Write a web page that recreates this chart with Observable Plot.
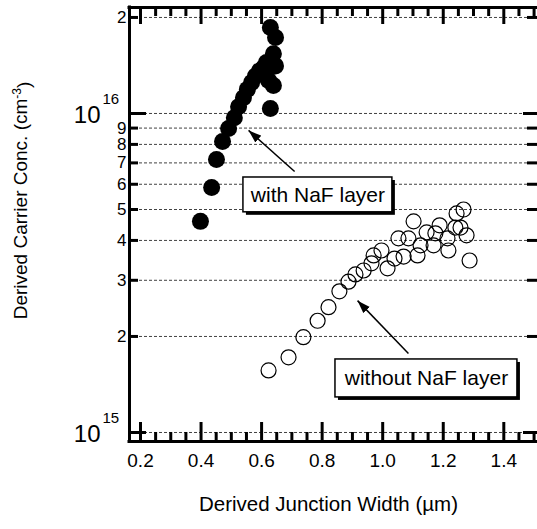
<!DOCTYPE html>
<html><head><meta charset="utf-8">
<script src="https://cdn.jsdelivr.net/npm/d3@7"></script>
<script src="https://cdn.jsdelivr.net/npm/@observablehq/plot@0.6"></script>
<style>html,body{margin:0;padding:0;background:#fff} svg{display:block}</style>
</head><body>
<script>
// ---- data ----
const withNaF_x = [0.398, 0.435, 0.451, 0.471, 0.491, 0.510, 0.524, 0.540, 0.553, 0.567, 0.580, 0.593, 0.606, 0.616, 0.623, 0.629, 0.646, 0.639, 0.646, 0.639, 0.629];
const withNaF_y = [4.59e15, 5.86e15, 7.17e15, 8.17e15, 8.97e15, 9.7e15, 1.05e16, 1.12e16, 1.19e16, 1.25e16, 1.31e16, 1.36e16, 1.39e16, 1.445e16, 1.27e16, 1.86e16, 1.73e16, 1.54e16, 1.41e16, 1.224e16, 1.036e16];
const withoutNaF_x = [0.623, 0.689, 0.738, 0.785, 0.821, 0.857, 0.887, 0.910, 0.937, 0.963, 0.970, 0.996, 1.016, 1.039, 1.069, 1.052, 1.085, 1.115, 1.102, 1.125, 1.145, 1.168, 1.174, 1.188, 1.214, 1.217, 1.240, 1.244, 1.267, 1.257, 1.277, 1.287];
const withoutNaF_y = [1.565e15, 1.72e15, 1.99e15, 2.24e15, 2.47e15, 2.77e15, 2.97e15, 3.13e15, 3.22e15, 3.39e15, 3.59e15, 3.72e15, 3.27e15, 3.51e15, 3.56e15, 4.06e15, 4.06e15, 3.59e15, 4.59e15, 3.86e15, 4.24e15, 3.86e15, 4.21e15, 4.46e15, 4.06e15, 3.72e15, 4.39e15, 4.86e15, 5.0e15, 4.39e15, 4.15e15, 3.46e15];

const xDomain = [0.1637, 1.5113];
const yDomain = [9.37e14, 2.149e16];
const xMajorTicks = [0.2, 0.4, 0.6, 0.8, 1.0, 1.2, 1.4];
const xMinorTicks = [0.25, 0.3, 0.35, 0.45, 0.5, 0.55, 0.65, 0.7, 0.75, 0.85, 0.9, 0.95, 1.05, 1.1, 1.15, 1.25, 1.3, 1.35, 1.45, 1.5];
const yMajorTicks = [1e15, 1e16];
const yMinorTicks = [2e15, 3e15, 4e15, 5e15, 6e15, 7e15, 8e15, 9e15, 2e16];
const yMinorLabels = ["2", "3", "4", "5", "6", "7", "8", "9", "2"];
const yGrid = [1e15, 2e15, 3e15, 4e15, 5e15, 6e15, 7e15, 8e15, 9e15, 1e16, 2e16];

const annotationLabels = ["with NaF layer", "without NaF layer"];
const boxX1 = [0.540, 0.844];
const boxX2 = [1.032, 1.445];
const boxYTop = [6.30e15, 1.694e15];
const boxYBottom = [4.90e15, 1.288e15];
const arrowFromX = [0.709, 1.085];
const arrowFromY = [6.58e15, 1.769e15];
const arrowToX = [0.557, 0.917];
const arrowToY = [8.85e15, 2.59e15];

const xTitle = "Derived Junction Width (\u00b5m)";
const yTitle = "Derived Carrier Conc. (cm-3)";

// ---- layout ----
const W = 537, H = 529, mL = 129, mT = 7, mB = 88, mR = 0;
const fw = W - mL - mR, fh = H - mT - mB;
const font = "'Liberation Sans', Arial, Helvetica, sans-serif";

const withPts = withNaF_x.map((x, i) => ({x, y: withNaF_y[i]}));
const withoutPts = withoutNaF_x.map((x, i) => ({x, y: withoutNaF_y[i]}));
const boxes = annotationLabels.map((label, i) => ({label, x1: boxX1[i], x2: boxX2[i], yTop: boxYTop[i], yBottom: boxYBottom[i]}));
const arrows = arrowFromX.map((x1, i) => ({x1, y1: arrowFromY[i], x2: arrowToX[i], y2: arrowToY[i]}));

const plot = Plot.plot({
  width: W, height: H,
  marginLeft: mL, marginTop: mT, marginBottom: mB, marginRight: mR,
  x: {domain: xDomain, axis: null},
  y: {type: "log", domain: yDomain, axis: null},
  style: {fontFamily: font, background: "white", color: "black", overflow: "visible"},
  marks: [
    Plot.ruleY(yGrid, {y: d => d, stroke: "#111", strokeWidth: 0.8, strokeDasharray: "3,2"}),
    // y ticks (left & right, inward)
    Plot.tickY(yMinorTicks, {y: d => d, insetRight: fw - 9, strokeWidth: 3}),
    Plot.tickY(yMajorTicks, {y: d => d, insetRight: fw - 17, strokeWidth: 3}),
    Plot.tickY(yMinorTicks, {y: d => d, insetLeft: fw - 10, strokeWidth: 3}),
    Plot.tickY(yMajorTicks, {y: d => d, insetLeft: fw - 14, strokeWidth: 3}),
    // x ticks (bottom & top, inward)
    Plot.tickX(xMinorTicks, {x: d => d, insetTop: fh - 9, strokeWidth: 3}),
    Plot.tickX(xMajorTicks, {x: d => d, insetTop: fh - 19, strokeWidth: 3}),
    Plot.tickX(xMinorTicks, {x: d => d, insetBottom: fh - 9, strokeWidth: 3}),
    Plot.tickX(xMajorTicks, {x: d => d, insetBottom: fh - 17, strokeWidth: 3}),
    // frame (left, top, bottom)
    Plot.ruleX([xDomain[0]], {x: d => d, strokeWidth: 3, strokeLinecap: "square"}),
    Plot.ruleY([yDomain[0], yDomain[1]], {y: d => d, strokeWidth: 3, strokeLinecap: "square"}),
    // data
    Plot.dot(withoutPts, {x: "x", y: "y", r: 7.5, stroke: "black", fill: "none", strokeWidth: 1.2}),
    Plot.dot(withPts, {x: "x", y: "y", r: 8.5, fill: "black", stroke: "none"}),
    // annotations
    Plot.link(arrows, {x1: "x1", y1: "y1", x2: "x2", y2: "y2", stroke: "black", strokeWidth: 1.5, markerEnd: "arrow"}),
    Plot.rect(boxes, {x1: "x1", x2: "x2", y1: "yTop", y2: "yBottom", fill: "black", dx: 3, dy: 3}),
    Plot.rect(boxes, {x1: "x1", x2: "x2", y1: "yTop", y2: "yBottom", fill: "white", stroke: "black", strokeWidth: 1.5}),
    Plot.text(boxes, {x: d => (d.x1 + d.x2) / 2, y: d => Math.sqrt(d.yTop * d.yBottom), text: "label", fontSize: 21}),
    // tick labels
    Plot.text(xMajorTicks, {x: d => d, text: d => d.toFixed(1), frameAnchor: "bottom", dy: 25, fontSize: 19}),
    Plot.text(yMinorTicks, {y: d => d, text: yMinorLabels, frameAnchor: "left", textAnchor: "end", dx: -3, fontSize: 17}),
    Plot.text(yMajorTicks, {y: d => d, text: () => "10", frameAnchor: "left", textAnchor: "end", dx: -29, dy: 2, fontSize: 24}),
    Plot.text(yMajorTicks, {y: d => d, text: d => String(Math.round(Math.log10(d))), frameAnchor: "left", textAnchor: "start", dx: -27, dy: -14, fontSize: 15}),
    // titles
    Plot.text([xTitle], {text: d => d, frameAnchor: "bottom", dy: 69, dx: -5, fontSize: 20.5}),
    Plot.text([yTitle], {text: d => d, frameAnchor: "left", textAnchor: "middle", rotate: -90, dx: -109, dy: -24, fontSize: 19})
  ]
});

// filled arrow heads
d3.select(plot).selectAll("marker")
  .attr("viewBox", "-13 -5 14 10")
  .attr("markerUnits", "userSpaceOnUse")
  .attr("markerWidth", 14)
  .attr("markerHeight", 10)
  .attr("fill", "black")
  .attr("stroke", "none")
  .select("path").attr("d", "M-13,-4.5L0,0L-13,4.5Z");

// superscript in y title
d3.select(plot).selectAll("text").filter(function() { return this.textContent === yTitle; })
  .each(function() {
    const t = d3.select(this);
    t.text(null);
    t.append("tspan").text("Derived Carrier Conc. (cm");
    t.append("tspan").attr("dy", "-0.45em").attr("font-size", "12").text("-3");
    t.append("tspan").attr("dy", "0.45em").text(")");
  });

document.body.appendChild(plot);
</script>
</body></html>
